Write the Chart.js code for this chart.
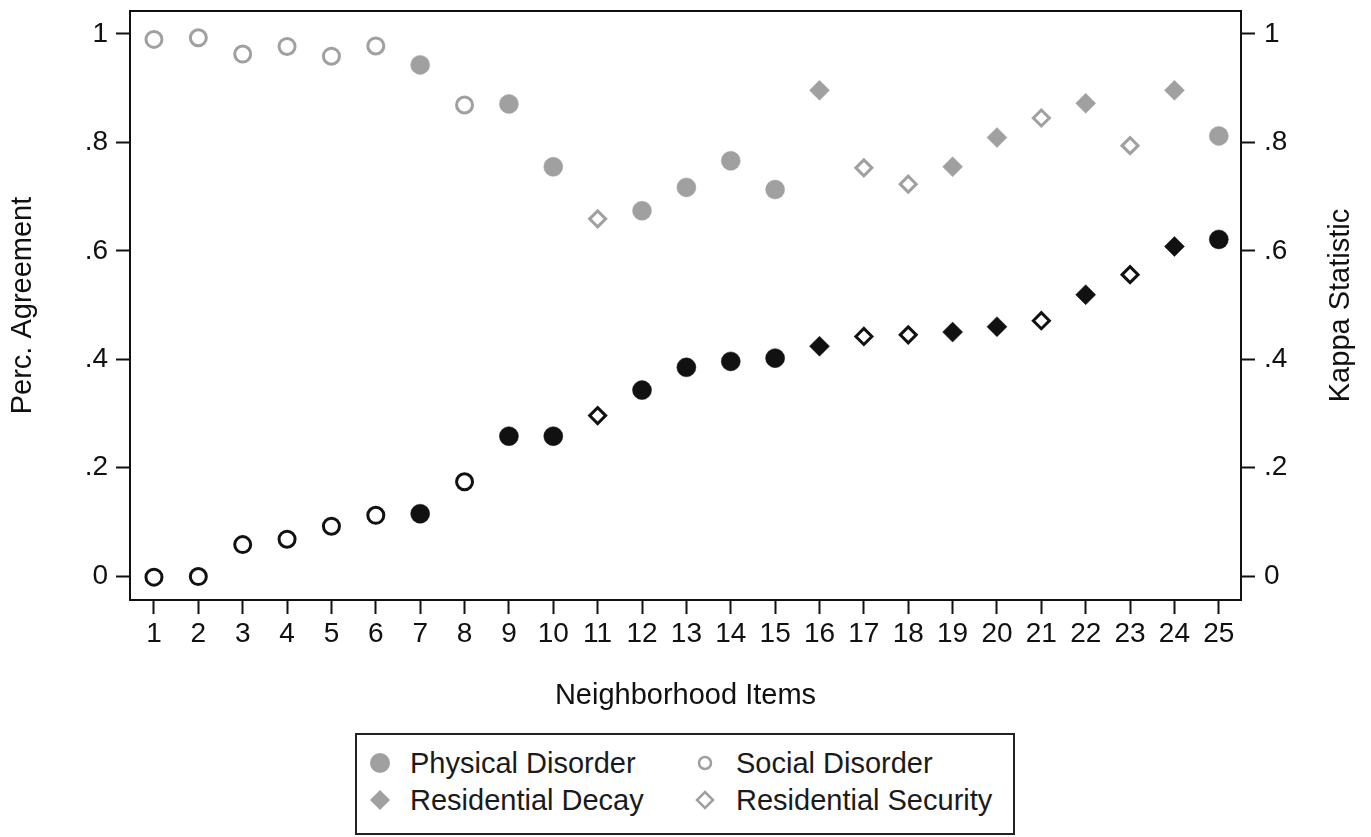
<!DOCTYPE html>
<html>
<head>
<meta charset="utf-8">
<script src="https://cdn.jsdelivr.net/npm/chart.js@4.4.1/dist/chart.umd.min.js"></script>
<style>
  html, body { margin: 0; padding: 0; background: #fff; }
  #wrap { position: relative; width: 1371px; height: 837px; }
  canvas { display: block; }
  #legend {
    position: absolute; left: 355px; top: 733px; width: 660px; height: 102px;
    box-sizing: border-box; border: 2px solid #222; background: #fff;
    font-family: "Liberation Sans", Arial, Helvetica, sans-serif; font-size: 29px; color: #1a1a1a;
  }
  .item { position: absolute; height: 28px; line-height: 28px; display: flex; align-items: center; white-space: nowrap; }
  .mk { width: 30px; height: 28px; display: flex; align-items: center; justify-content: center; }
  .mk svg { display: block; }
</style>
</head>
<body>
<div id="wrap">
  <canvas id="chart" width="1371" height="837"></canvas>
  <div id="legend"></div>
</div>
<script>
// ---------------- data ----------------
const items = [1, 2, 3, 4, 5, 6, 7, 8, 9, 10, 11, 12, 13, 14, 15, 16, 17, 18, 19, 20, 21, 22, 23, 24, 25];
const itemDomain = [
  'Social Disorder', 'Social Disorder', 'Social Disorder', 'Social Disorder', 'Social Disorder',
  'Social Disorder', 'Physical Disorder', 'Social Disorder', 'Physical Disorder', 'Physical Disorder',
  'Residential Security', 'Physical Disorder', 'Physical Disorder', 'Physical Disorder', 'Physical Disorder',
  'Residential Decay', 'Residential Security', 'Residential Security', 'Residential Decay', 'Residential Decay',
  'Residential Security', 'Residential Decay', 'Residential Security', 'Residential Decay', 'Physical Disorder'
];
const percAgreement = [0.990, 0.993, 0.963, 0.977, 0.959, 0.978, 0.943, 0.869, 0.871, 0.755,
                       0.659, 0.674, 0.717, 0.766, 0.713, 0.896, 0.753, 0.723, 0.755, 0.809,
                       0.845, 0.872, 0.794, 0.896, 0.812];
const kappaStat = [-0.002, -0.001, 0.058, 0.068, 0.092, 0.112, 0.115, 0.174, 0.258, 0.258,
                   0.296, 0.343, 0.385, 0.396, 0.402, 0.424, 0.442, 0.445, 0.450, 0.460,
                   0.471, 0.519, 0.556, 0.608, 0.621];
const domains = ['Physical Disorder', 'Social Disorder', 'Residential Decay', 'Residential Security'];
const yTickValues = [0, 0.2, 0.4, 0.6, 0.8, 1];
const yTickLabels = ['0', '.2', '.4', '.6', '.8', '1'];
const xTitle = 'Neighborhood Items';
const yLeftTitle = 'Perc. Agreement';
const yRightTitle = 'Kappa Statistic';

// ---------------- styles ----------------
const GRAY = '#a0a0a0';
const BLACK = '#111111';
const FONT = '"Liberation Sans", Arial, Helvetica, sans-serif';
const markerStyle = {
  'Physical Disorder':    { shape: 'circle',  filled: true },
  'Social Disorder':      { shape: 'circle',  filled: false },
  'Residential Decay':    { shape: 'rectRot', filled: true },
  'Residential Security': { shape: 'rectRot', filled: false }
};
function pointProps(color) {
  return {
    pointStyle: itemDomain.map(d => markerStyle[d].shape),
    pointRadius: itemDomain.map(d => {
      const s = markerStyle[d];
      if (s.shape === 'circle') return s.filled ? 9.5 : 8;
      return s.filled ? 10 : 8;
    }),
    pointBackgroundColor: itemDomain.map(d => markerStyle[d].filled ? color : '#ffffff'),
    pointBorderColor: color,
    pointBorderWidth: itemDomain.map(d => markerStyle[d].filled ? 0.5 : 3)
  };
}

Chart.defaults.font.family = FONT;
Chart.defaults.color = '#111';

const Y_MIN = -0.0442, Y_MAX = 1.0424;

function fixVertical(width) {
  return function (scale) {
    scale.width = width;
    scale.paddingTop = 0; scale.paddingBottom = 0;
  };
}

const frameAndRightTitle = {
  id: 'frameAndRightTitle',
  afterDraw(chart) {
    const { ctx, chartArea } = chart;
    ctx.save();
    ctx.strokeStyle = '#111';
    ctx.lineWidth = 2;
    ctx.beginPath();
    ctx.moveTo(chartArea.left - 1, chartArea.top);
    ctx.lineTo(chartArea.right + 1, chartArea.top);
    ctx.stroke();
    ctx.translate(1341, (chartArea.top + chartArea.bottom) / 2);
    ctx.rotate(-Math.PI / 2);
    ctx.font = '29px ' + FONT;
    ctx.fillStyle = '#111';
    ctx.textAlign = 'center';
    ctx.textBaseline = 'middle';
    ctx.fillText(yRightTitle, 0, 0);
    ctx.restore();
  }
};

const yTickCfg = {
  font: { size: 28 },
  color: '#111',
  callback: (v) => { const i = yTickValues.indexOf(v); return i >= 0 ? yTickLabels[i] : ''; }
};

new Chart(document.getElementById('chart'), {
  type: 'scatter',
  data: {
    datasets: [
      Object.assign({
        label: yLeftTitle,
        yAxisID: 'y',
        data: items.map((x, i) => ({ x: x, y: percAgreement[i] }))
      }, pointProps(GRAY)),
      Object.assign({
        label: yRightTitle,
        yAxisID: 'y2',
        data: items.map((x, i) => ({ x: x, y: kappaStat[i] }))
      }, pointProps(BLACK))
    ]
  },
  options: {
    responsive: false,
    animation: false,
    events: [],
    layout: { padding: { top: 10, bottom: 0, left: 0, right: 0 } },
    plugins: { legend: { display: false }, tooltip: { enabled: false } },
    scales: {
      x: {
        type: 'linear',
        min: 0.46, max: 25.5,
        afterBuildTicks: (s) => { s.ticks = items.map(v => ({ value: v })); },
        afterFit: (s) => { s.height = 237; s.paddingLeft = 0; s.paddingRight = 0; },
        ticks: { font: { size: 28 }, color: '#111', padding: 3, maxRotation: 0, autoSkip: false,
                 callback: (v) => String(v) },
        grid: { drawOnChartArea: false, drawTicks: true, tickLength: 14, color: '#111', tickWidth: 2 },
        border: { display: true, color: '#111', width: 2 },
        title: { display: true, text: xTitle, font: { size: 29 }, color: '#111',
                 padding: { top: 0, bottom: 124 } }
      },
      y: {
        type: 'linear', position: 'left',
        min: Y_MIN, max: Y_MAX,
        afterBuildTicks: (s) => { s.ticks = yTickValues.map(v => ({ value: v })); },
        afterFit: fixVertical(130),
        ticks: Object.assign({ padding: 8 }, yTickCfg),
        grid: { drawOnChartArea: false, drawTicks: true, tickLength: 14, color: '#111', tickWidth: 2 },
        border: { display: true, color: '#111', width: 2 },
        title: { display: true, text: yLeftTitle, font: { size: 29 }, color: '#111',
                 padding: { top: 6, bottom: 0 } }
      },
      y2: {
        type: 'linear', position: 'right',
        min: Y_MIN, max: Y_MAX,
        afterBuildTicks: (s) => { s.ticks = yTickValues.map(v => ({ value: v })); },
        afterFit: fixVertical(130),
        ticks: Object.assign({ padding: 9 }, yTickCfg),
        grid: { drawOnChartArea: false, drawTicks: true, tickLength: 14, color: '#111', tickWidth: 2 },
        border: { display: true, color: '#111', width: 2 },
        title: { display: false }
      }
    }
  },
  plugins: [frameAndRightTitle]
});

// ---------------- legend (HTML) ----------------
function markerSvg(domain) {
  const s = markerStyle[domain];
  if (s.shape === 'circle' && s.filled)
    return '<svg width="22" height="22"><circle cx="11" cy="11" r="10" fill="' + GRAY + '"/></svg>';
  if (s.shape === 'circle')
    return '<svg width="22" height="22"><circle cx="11" cy="11" r="6" fill="#fff" stroke="' + GRAY + '" stroke-width="2.5"/></svg>';
  if (s.filled)
    return '<svg width="22" height="22"><polygon points="11,1 21,11 11,21 1,11" fill="' + GRAY + '"/></svg>';
  return '<svg width="22" height="22"><polygon points="11,3 19,11 11,19 3,11" fill="#fff" stroke="' + GRAY + '" stroke-width="2.5"/></svg>';
}
const legendPos = [ { left: 8, top: 14 }, { left: 333, top: 14 }, { left: 8, top: 51 }, { left: 333, top: 51 } ];
const legendEl = document.getElementById('legend');
domains.forEach((d, i) => {
  const it = document.createElement('div');
  it.className = 'item';
  it.style.left = legendPos[i].left + 'px';
  it.style.top = legendPos[i].top + 'px';
  it.innerHTML = '<span class="mk">' + markerSvg(d) + '</span><span style="margin-left:' + (i % 2 === 0 ? 15 : 16) + 'px">' + d + '</span>';
  legendEl.appendChild(it);
});
</script>
</body>
</html>
